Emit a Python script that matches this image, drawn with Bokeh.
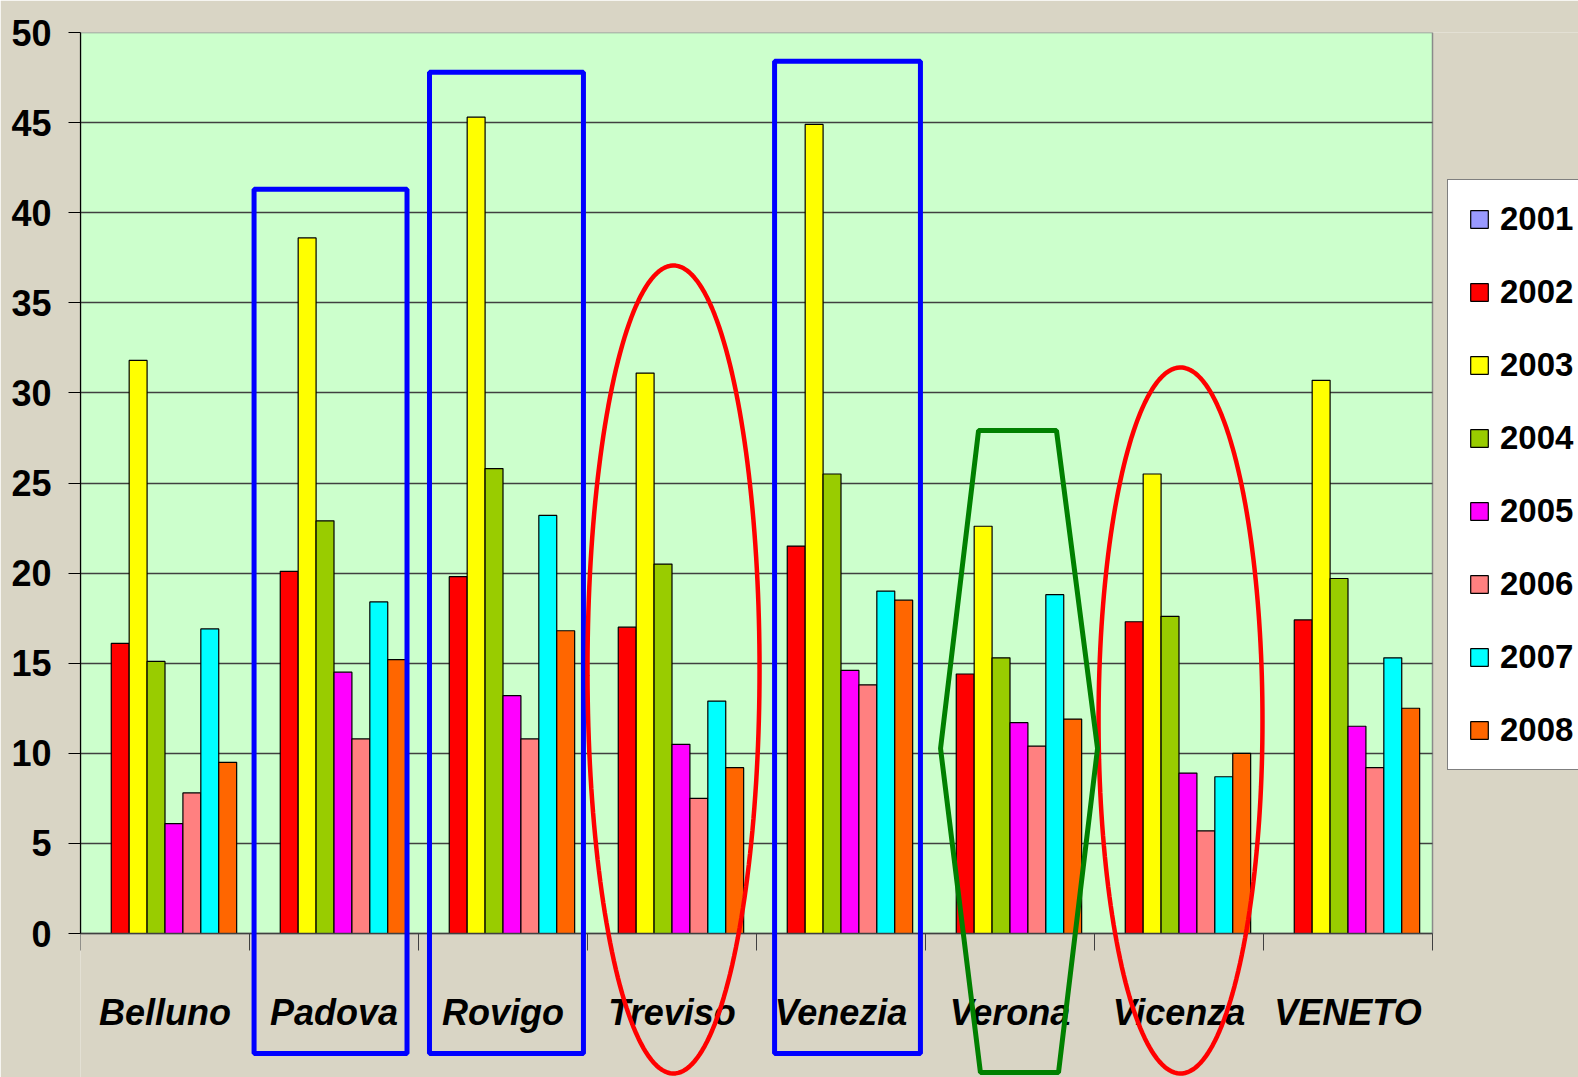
import numpy as np
from bokeh.plotting import figure
from bokeh.models import (ColumnDataSource, Range1d, LinearAxis, BoxAnnotation,
                          FixedTicker, Legend, LegendItem, PolyAnnotation)
from bokeh.transform import dodge
from bokeh.embed import file_html
from bokeh.resources import INLINE

# ---------------- data ----------------
cities = ["Belluno", "Padova", "Rovigo", "Treviso", "Venezia", "Verona", "Vicenza", "VENETO"]
years = ["2001", "2002", "2003", "2004", "2005", "2006", "2007", "2008"]
v2001 = [0, 0, 0, 0, 0, 0, 0, 0]
v2002 = [16.1, 20.1, 19.8, 17.0, 21.5, 14.4, 17.3, 17.4]
v2003 = [31.8, 38.6, 45.3, 31.1, 44.9, 22.6, 25.5, 30.7]
v2004 = [15.1, 22.9, 25.8, 20.5, 25.5, 15.3, 17.6, 19.7]
v2005 = [6.1, 14.5, 13.2, 10.5, 14.6, 11.7, 8.9, 11.5]
v2006 = [7.8, 10.8, 10.8, 7.5, 13.8, 10.4, 5.7, 9.2]
v2007 = [16.9, 18.4, 23.2, 12.9, 19.0, 18.8, 8.7, 15.3]
v2008 = [9.5, 15.2, 16.8, 9.2, 18.5, 11.9, 10.0, 12.5]
series = [v2001, v2002, v2003, v2004, v2005, v2006, v2007, v2008]
colors = ["#9999FF", "#FF0000", "#FFFF00", "#99CC00", "#FF00FF", "#FF8080", "#00FFFF", "#FF6600"]
y_ticks = [0, 5, 10, 15, 20, 25, 30, 35, 40, 45, 50]

FONT = "'Liberation Sans', Arial, sans-serif"
BG = "#d9d5c5"

n = len(cities)
centers = [i + 0.5 for i in range(n)]
src = ColumnDataSource(dict(xc=centers, city=cities, **{y: s for y, s in zip(years, series)}))

# layout: plot area spans x 80..1432 px, value 50 at y=32 px and 0 at y=933 px.
# The frame itself runs to the right and bottom edges so the highlight shapes and
# the legend can extend outside the plot area.
W, H = 1578, 1077
PX_PER_CAT = (1432 - 80) / n
PX_PER_UNIT = (933 - 32) / 50
X_END = n + (W - 1432) / PX_PER_CAT
Y_LOW = -(H - 933) / PX_PER_UNIT

p = figure(width=W, height=H, output_backend="svg", toolbar_location=None,
           x_range=Range1d(0, X_END), y_range=Range1d(Y_LOW, 50),
           x_axis_location=None, y_axis_location=None,
           min_border_left=80, min_border_top=32, min_border_right=0, min_border_bottom=0)
p.background_fill_color = BG
p.border_fill_color = BG
p.outline_line_color = None

# plot-area background (0..n, 0..50)
p.add_layout(BoxAnnotation(left=0, right=n, bottom=0, top=50, fill_color="#CCFFCC", fill_alpha=1,
                           line_color="#8a8a8a", line_width=1.5, line_alpha=1, level="image"))

# y axis
yax = LinearAxis(ticker=FixedTicker(ticks=y_ticks), bounds=(0, 50))
yax.axis_line_color = "black"
yax.axis_line_width = 1.2
yax.major_tick_line_color = "black"
yax.major_tick_out = 12
yax.major_tick_in = 0
yax.minor_tick_line_color = None
yax.major_label_standoff = 17
yax.major_label_text_font = FONT
yax.major_label_text_font_style = "bold"
yax.major_label_text_font_size = "36px"
yax.major_label_text_color = "black"
p.add_layout(yax, "left")

# x tick axis at y=0 (ticks at category boundaries)
tax = LinearAxis(ticker=FixedTicker(ticks=list(range(n + 1))), fixed_location=0, bounds=(0, n),
                 major_label_overrides={i: "" for i in range(n + 1)})
tax.axis_line_color = "#404040"
tax.axis_line_width = 1.5
tax.major_tick_line_color = "#404040"
tax.major_tick_out = 17
tax.major_tick_in = 0
tax.minor_tick_line_color = None
tax.major_label_text_font_size = "1px"
tax.major_label_standoff = 0
p.add_layout(tax, "below")

# category label axis (labels at category centres)
cax = LinearAxis(ticker=FixedTicker(ticks=centers), fixed_location=0, bounds=(0, n),
                 major_label_overrides={c: name for c, name in zip(centers, cities)})
cax.axis_line_color = None
cax.major_tick_line_color = None
cax.major_tick_out = 0
cax.major_tick_in = 0
cax.minor_tick_line_color = None
cax.major_label_standoff = 58
cax.major_label_text_font = FONT
cax.major_label_text_font_style = "bold italic"
cax.major_label_text_font_size = "36px"
cax.major_label_text_color = "black"
p.add_layout(cax, "below")

# horizontal gridlines limited to the plot area
grid_ticks = y_ticks[1:-1]
p.xgrid.grid_line_color = None
yg = p.ygrid[0]
if "cross_bounds" in yg.properties():
    yg.ticker = FixedTicker(ticks=grid_ticks)
    yg.cross_bounds = (0, n)
    yg.grid_line_color = "#404040"
    yg.grid_line_width = 1.3
else:
    yg.grid_line_color = None
    p.segment(x0=0, x1=n, y0=grid_ticks, y1=grid_ticks, line_color="#404040", line_width=1.3)

bw = 0.106
renderers = []
for j, (yr, col) in enumerate(zip(years, colors)):
    r = p.vbar(x=dodge("xc", (j - 3.5) * bw), top=yr, width=bw,
               source=src, fill_color=col, line_color="black", line_width=1.2)
    renderers.append(r)

legend = Legend(items=[LegendItem(label=yr, renderers=[r]) for yr, r in zip(years, renderers)],
                location=(1447 - 80, H - 770))
legend.label_text_font = FONT
legend.label_text_font_style = "bold"
legend.label_text_font_size = "33px"
legend.label_text_color = "black"
legend.glyph_width = 22
legend.glyph_height = 22
legend.label_height = 38
legend.label_standoff = 10
legend.spacing = 35
legend.padding = 20
legend.margin = 0
legend.border_line_color = "black"
legend.border_line_width = 1.5
legend.background_fill_color = "white"
legend.background_fill_alpha = 1
p.add_layout(legend, "center")

# ---------------- annotations (highlight shapes) ----------------
def rect_ann(x0, x1, y0, y1, color):
    return PolyAnnotation(xs=[x0, x1, x1, x0], ys=[y0, y0, y1, y1],
                          fill_alpha=0, line_color=color, line_alpha=1, line_width=5)

for (x0, x1, y1) in [(1.027, 1.932, 41.3), (2.065, 2.976, 47.8), (4.107, 4.970, 48.4)]:
    p.add_layout(rect_ann(x0, x1, -6.66, y1, "#0000FF"))

t = np.linspace(0, 2 * np.pi, 200)
for (cx, cy, rx, ry) in [(3.509, 14.65, 0.509, 22.42), (6.509, 11.82, 0.485, 19.59)]:
    p.add_layout(PolyAnnotation(xs=list(cx + rx * np.cos(t)), ys=list(cy + ry * np.sin(t)),
                                fill_alpha=0, line_color="#FF0000", line_alpha=1, line_width=4.5))

hex_x = [5.089, 5.314, 5.775, 6.018, 5.787, 5.325]
hex_y = [10.27, 27.91, 27.91, 10.27, -7.71, -7.71]
p.add_layout(PolyAnnotation(xs=hex_x, ys=hex_y, fill_alpha=0,
                            line_color="#008000", line_alpha=1, line_width=5))

open("out.html", "w").write(file_html(p, INLINE))
